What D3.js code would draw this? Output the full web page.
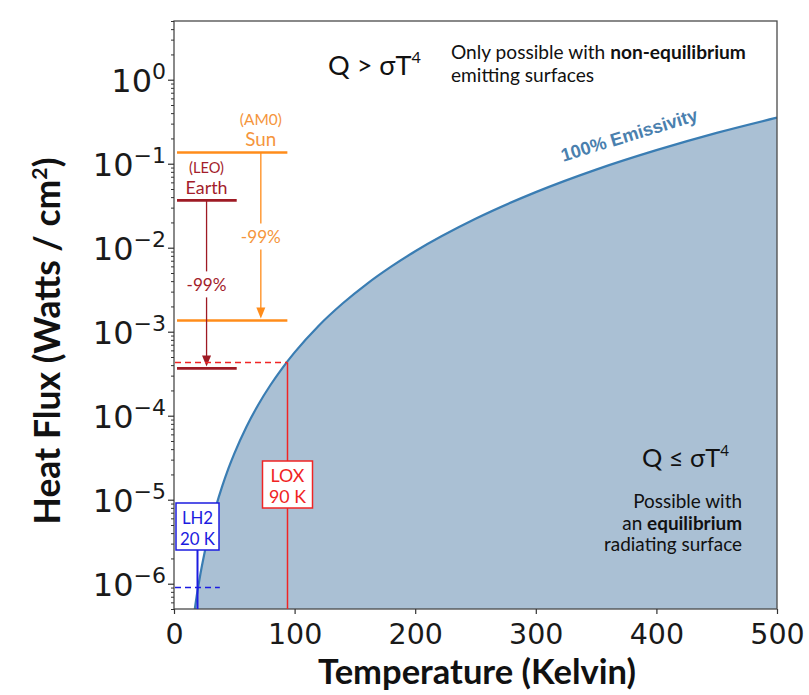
<!DOCTYPE html>
<html><head><meta charset="utf-8">
<script src="https://cdn.jsdelivr.net/npm/d3@7"></script>
<style>body{margin:0;background:#fff}</style>
</head><body><svg id="c" width="809" height="695"></svg>
<script>
// ---- data ----
const temps = [17,18,20,22,25,28,32,35,40,45,50,60,70,80,90,100,120,140,160,180,200,250,300,350,400,450,500];
const flux  = [4.7e-7,5.95e-7,9.07e-7,1.33e-6,2.21e-6,3.49e-6,5.95e-6,8.51e-6,1.45e-5,2.33e-5,3.54e-5,7.35e-5,1.36e-4,2.32e-4,3.72e-4,5.67e-4,1.18e-3,2.18e-3,3.72e-3,5.95e-3,9.07e-3,2.21e-2,4.59e-2,8.51e-2,0.145,0.233,0.354];
const xTicks = [0,100,200,300,400,500];
const yTickExps = [0,-1,-2,-3,-4,-5,-6];
const sources = ["Sun","Earth"];
const sourceNotes = ["(AM0)","(LEO)"];
const sourceFlux = [0.136, 0.0366];
const sourceReduced = [0.00136, 0.000366];
const reductionLabels = ["-99%","-99%"];
const sourceSpanK = [[2.5,94],[2.5,52]];
const sourceArrowK = [72,27];
const fluids = ["LOX","LH2"];
const fluidTemps = [94, 19.3];
const fluidTempLabels = ["90 K","20 K"];
const fluidFlux = [4.4e-4, 9.2e-7];

// ---- layout ----
const L=174,R=777,T=21,B=609;
const x = d3.scaleLinear().domain([0,500]).range([L,R]);
const y = d3.scaleLog().domain([5e-7,5]).range([B,T]);
const svg = d3.select('#c');
const CAL = "Lato, 'Open Sans', sans-serif";
const DJ = "'DejaVu Sans', sans-serif";

function fit(sel, w){
  const len = sel.node().getComputedTextLength();
  const cur = parseFloat(sel.attr('font-size'));
  sel.attr('font-size', cur*w/len);
  return cur*w/len;
}

svg.append('defs').append('clipPath').attr('id','clip')
  .append('rect').attr('x',L).attr('y',T).attr('width',R-L).attr('height',B-T);

const pts = temps.map((t,i)=>[t,flux[i]]);
const g = svg.append('g').attr('clip-path','url(#clip)');
g.append('path').datum(pts)
  .attr('d', d3.area().x(d=>x(d[0])).y0(B).y1(d=>y(d[1])).curve(d3.curveMonotoneX))
  .attr('fill','#aac0d4');
g.append('path').datum(pts)
  .attr('d', d3.line().x(d=>x(d[0])).y(d=>y(d[1])).curve(d3.curveMonotoneX))
  .attr('fill','none').attr('stroke','#3a7db3').attr('stroke-width',2.2);

// frame
svg.append('rect').attr('x',L).attr('y',T).attr('width',R-L).attr('height',B-T)
  .attr('fill','none').attr('stroke','#4a4a4a').attr('stroke-width',1.3);

// x axis
const xa = svg.append('g').attr('transform',`translate(0,${B})`)
  .call(d3.axisBottom(x).tickValues(xTicks).tickSize(5).tickPadding(10).tickFormat(d3.format('d')));
xa.select('.domain').remove();
xa.selectAll('line').attr('stroke','#333').attr('stroke-width',1.2);
xa.selectAll('text').attr('font-family',DJ).attr('font-size',28.5).attr('fill','#1a1a1a');

// y axis major
const majors = yTickExps.map(e=>Math.pow(10,e));
const ya = svg.append('g').attr('transform',`translate(${L},0)`)
  .call(d3.axisLeft(y).tickValues(majors).tickSize(6).tickFormat(''));
ya.select('.domain').remove();
ya.selectAll('line').attr('stroke','#333').attr('stroke-width',1.2);
ya.selectAll('.tick').each(function(d,i){
  const t = d3.select(this).append('text').attr('x',-8).attr('y',11.7)
    .attr('text-anchor','end').attr('font-family',DJ).attr('font-size',32).attr('fill','#1a1a1a');
  t.append('tspan').text('10');
  const e = yTickExps[i];
  t.append('tspan').attr('font-size',22).attr('dy',-12.7).text(e<0 ? '\u2212'+(-e) : String(e));
});
// y axis minor
const minors = [];
for (let e=-7;e<=0;e++) for (let m=2;m<=9;m++){ const v=m*Math.pow(10,e); if(v>=5e-7&&v<=5) minors.push(v); }
const ym = svg.append('g').attr('transform',`translate(${L},0)`)
  .call(d3.axisLeft(y).tickValues(minors).tickSize(3).tickFormat(''));
ym.select('.domain').remove();
ym.selectAll('line').attr('stroke','#333').attr('stroke-width',1);

// axis titles
const yl = svg.append('text').attr('transform','translate(60,341) rotate(-90)')
  .attr('text-anchor','middle').attr('font-family',CAL).attr('font-weight','bold')
  .attr('font-size',32).attr('fill','#111');
yl.append('tspan').text('Heat Flux (Watts / cm');
yl.append('tspan').attr('font-size','0.6em').attr('dy','-0.6em').text('2');
yl.append('tspan').attr('dy','0.36em').text(')');
fit(yl,367);
const xl = svg.append('text').attr('x',477).attr('y',684).attr('text-anchor','middle')
  .attr('font-family',CAL).attr('font-weight','bold').attr('font-size',31).attr('fill','#111')
  .text('Temperature (Kelvin)');
fit(xl,318);

// region texts
const q1 = svg.append('text').attr('x',328).attr('y',75).attr('font-family',CAL).attr('font-size',30).attr('fill','#111');
q1.append('tspan').text('Q > \u03c3T');
q1.append('tspan').attr('font-size','0.6em').attr('dy','-0.75em').text('4');
fit(q1,93);
const n1 = svg.append('text').attr('x',451).attr('y',59).attr('font-family',CAL).attr('font-size',16).attr('fill','#111');
n1.append('tspan').text('Only possible with ');
n1.append('tspan').attr('font-weight','bold').text('non-equilibrium');
const fs1 = fit(n1,295);
svg.append('text').attr('x',451).attr('y',82).attr('font-family',CAL).attr('font-size',fs1).attr('fill','#111').text('emitting surfaces');

const q2 = svg.append('text').attr('x',729).attr('y',467).attr('text-anchor','end').attr('font-family',CAL).attr('font-size',30).attr('fill','#111');
q2.append('tspan').text('Q \u2264 \u03c3T');
q2.append('tspan').attr('font-size','0.6em').attr('dy','-0.75em').text('4');
fit(q2,87);
const r3 = svg.append('text').attr('x',742).attr('y',551).attr('text-anchor','end').attr('font-family',CAL).attr('font-size',16).attr('fill','#111').text('radiating surface');
const fs2 = fit(r3,138);
svg.append('text').attr('x',742).attr('y',508).attr('text-anchor','end').attr('font-family',CAL).attr('font-size',fs2).attr('fill','#111').text('Possible with');
const r2 = svg.append('text').attr('x',742).attr('y',530).attr('text-anchor','end').attr('font-family',CAL).attr('font-size',fs2).attr('fill','#111');
r2.append('tspan').text('an ');
r2.append('tspan').attr('font-weight','bold').text('equilibrium');

// emissivity label
const em = svg.append('text').attr('transform','translate(631,141) rotate(-17)').attr('text-anchor','middle')
  .attr('font-family',"'Liberation Sans', Arial, sans-serif").attr('font-weight','bold')
  .attr('font-size',15).attr('fill','#4a80ae').text('100% Emissivity');
fit(em,142);

// sources (Sun / Earth)
const srcLine = ['#ff8c1a','#9e1a24'];
const srcText = ['#f5953c','#a31d2b'];
sources.forEach((s,i)=>{
  const c = srcLine[i], tc = srcText[i];
  const yt = y(sourceFlux[i]), yb = y(sourceReduced[i]), xa_ = x(sourceArrowK[i]);
  [yt,yb].forEach(yy=>svg.append('line').attr('x1',x(sourceSpanK[i][0])).attr('x2',x(sourceSpanK[i][1]))
    .attr('y1',yy).attr('y2',yy).attr('stroke',c).attr('stroke-width',2.6));
  const mid = (yt+yb)/2;
  svg.append('line').attr('x1',xa_).attr('x2',xa_).attr('y1',yt).attr('y2',mid-13).attr('stroke',c).attr('stroke-width',1.3);
  svg.append('line').attr('x1',xa_).attr('x2',xa_).attr('y1',mid+13).attr('y2',yb-10).attr('stroke',c).attr('stroke-width',1.3);
  svg.append('path').attr('d',`M${xa_-4.5},${yb-13}L${xa_+4.5},${yb-13}L${xa_},${yb-2}Z`).attr('fill',c);
  const pl = svg.append('text').attr('x',xa_).attr('y',mid+7).attr('text-anchor','middle')
    .attr('font-family',CAL).attr('font-size',17).attr('fill',tc).text(reductionLabels[i]);
  fit(pl,40);
  const nt = svg.append('text').attr('x',xa_).attr('y',yt-6.5).attr('text-anchor','middle')
    .attr('font-family',CAL).attr('font-size',17).attr('fill',tc).text(s);
  fit(nt, i===0?31:42);
  const no = svg.append('text').attr('x',xa_).attr('y',yt-27.5).attr('text-anchor','middle')
    .attr('font-family',CAL).attr('font-size',13).attr('fill',tc).text(sourceNotes[i]);
  fit(no, i===0?42:35);
});

// fluid markers
const fCol = ['#f02424','#1c1ce0'];
const dashEnd = [94, 38];
const boxes = [{top:461,h:47,w:50},{top:503,h:47,w:43}];
fluids.forEach((f,i)=>{
  const c=fCol[i], xv=Math.round(x(fluidTemps[i]))+0.5, yv=Math.round(y(fluidFlux[i]))+0.5;
  svg.append('line').attr('x1',x(0)+1).attr('x2',x(dashEnd[i])).attr('y1',yv).attr('y2',yv)
    .attr('stroke',c).attr('stroke-width',1.4).attr('stroke-dasharray','6,4');
  const bx = boxes[i];
  if(i===0){
    svg.append('line').attr('x1',xv).attr('x2',xv).attr('y1',yv).attr('y2',B).attr('stroke',c).attr('stroke-width',1.5);
  } else {
    svg.append('line').attr('x1',xv).attr('x2',xv).attr('y1',bx.top+bx.h).attr('y2',B).attr('stroke',c).attr('stroke-width',2);
  }
  svg.append('rect').attr('x',xv-bx.w/2).attr('y',bx.top).attr('width',bx.w).attr('height',bx.h)
    .attr('fill','#fff').attr('stroke',c).attr('stroke-width',1.5);
  const t1 = svg.append('text').attr('x',xv).attr('y',bx.top+20.5).attr('text-anchor','middle')
    .attr('font-family',CAL).attr('font-size',17).attr('fill',c).text(f);
  const t2 = svg.append('text').attr('x',xv).attr('y',bx.top+41.5).attr('text-anchor','middle')
    .attr('font-family',CAL).attr('font-size',17).attr('fill',c).text(fluidTempLabels[i]);
  const fs = fit(t2, i===0?37:35);
  t1.attr('font-size',fs);
});
</script></body></html>
